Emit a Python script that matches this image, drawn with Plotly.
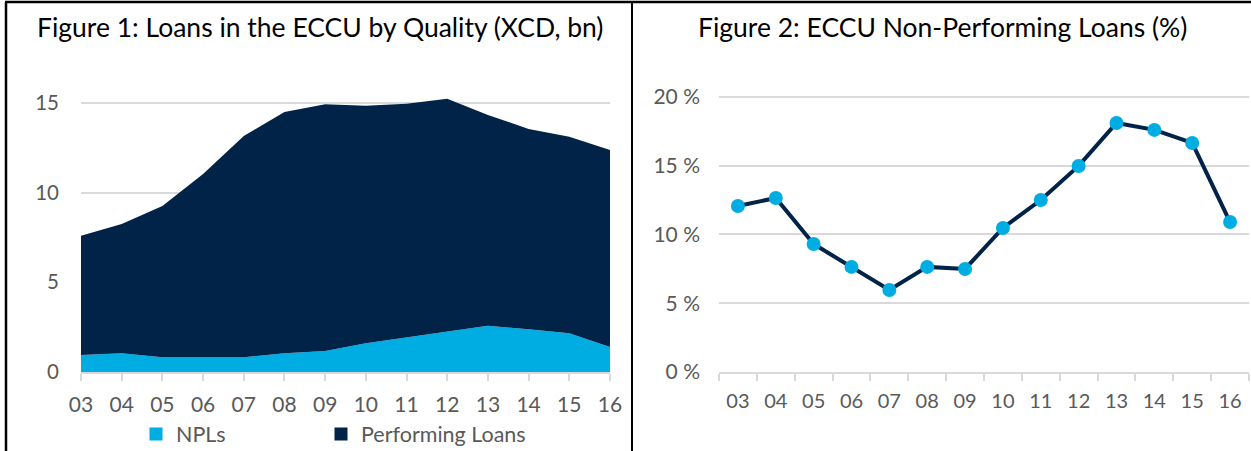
import plotly.graph_objects as go

years = ["03", "04", "05", "06", "07", "08", "09", "10", "11", "12", "13", "14", "15", "16"]
total_loans = [7.6, 8.25, 9.26, 11.04, 13.16, 14.5, 14.93, 14.85, 14.95, 15.24, 14.33, 13.55, 13.12, 12.38]
npls = [0.95, 1.04, 0.82, 0.82, 0.82, 1.04, 1.17, 1.6, 1.93, 2.25, 2.58, 2.38, 2.16, 1.39]
performing = [round(t - n, 3) for t, n in zip(total_loans, npls)]
npl_pct = [12.07, 12.65, 9.3, 7.64, 5.96, 7.64, 7.49, 10.47, 12.5, 14.98, 18.1, 17.6, 16.65, 10.9]

left_yticks = [0, 5, 10, 15]
right_yticks = [0, 5, 10, 15, 20]
right_yticklabels = ["0 %", "5 %", "10 %", "15 %", "20 %"]

NAVY = "#002347"
LIGHT = "#00ADE3"
GRID = "#D9D9D9"
TXT = "#595959"
FONT = "Lato"

W, H = 1251, 451

def px_x(p):
    return p / W

def px_y(p):
    return (H - p) / H

fig = go.Figure()

# Left: stacked area
fig.add_trace(go.Scatter(x=years, y=npls, mode="lines", line=dict(width=0, color=LIGHT),
                         fillcolor=LIGHT, stackgroup="a", name="NPLs",
                         showlegend=False, xaxis="x", yaxis="y"))
fig.add_trace(go.Scatter(x=years, y=performing, mode="lines", line=dict(width=0, color=NAVY),
                         fillcolor=NAVY, stackgroup="a", name="Performing Loans",
                         showlegend=False, xaxis="x", yaxis="y"))
# legend proxies
fig.add_trace(go.Scatter(x=[None], y=[None], mode="markers",
                         marker=dict(symbol="square", size=13, color=LIGHT),
                         name="NPLs", xaxis="x", yaxis="y", legend="legend"))
fig.add_trace(go.Scatter(x=[None], y=[None], mode="markers",
                         marker=dict(symbol="square", size=13, color=NAVY),
                         name="Performing Loans", xaxis="x", yaxis="y", legend="legend2"))

# Right: line
fig.add_trace(go.Scatter(x=years, y=npl_pct, mode="lines+markers",
                         line=dict(color=NAVY, width=4),
                         marker=dict(color=LIGHT, size=14),
                         showlegend=False, xaxis="x2", yaxis="y2"))

legend_common = dict(orientation="h", xanchor="left", y=px_y(434), yanchor="middle",
                     itemwidth=30, font=dict(size=21.5, color=TXT), bgcolor="rgba(0,0,0,0)")

fig.update_layout(
    width=W, height=H,
    margin=dict(l=0, r=0, t=0, b=0, autoexpand=False),
    paper_bgcolor="white", plot_bgcolor="white",
    font=dict(family=FONT, color=TXT, size=18),
    xaxis=dict(domain=[px_x(81), px_x(610)], type="category", range=[0, 13],
               showgrid=False, showline=True, linecolor=GRID, linewidth=1.5,
               ticks="outside", ticklen=7, tickcolor=GRID, tickwidth=1.5,
               ticklabelstandoff=6,
               tickfont=dict(size=21, color=TXT), anchor="y", automargin=False),
    yaxis=dict(domain=[px_y(372), px_y(85)], range=[0, 16], tickvals=left_yticks,
               showgrid=True, gridcolor=GRID, gridwidth=1.5, zeroline=False,
               showline=False, ticks="", ticklabelstandoff=21,
               tickfont=dict(size=20.5, color=TXT), anchor="x", automargin=False),
    xaxis2=dict(domain=[px_x(719), px_x(1249)], type="category", range=[-0.5, 13.5],
                showgrid=False, showline=True, linecolor=GRID, linewidth=1.5,
                ticks="outside", ticklen=7, tickcolor=GRID, tickwidth=1.5,
                tickson="boundaries", ticklabelstandoff=10,
                tickfont=dict(size=20, color=TXT), anchor="y2", automargin=False),
    yaxis2=dict(domain=[px_y(372), px_y(90)], range=[0, 20.5], tickvals=right_yticks,
                ticktext=right_yticklabels,
                showgrid=True, gridcolor=GRID, gridwidth=1.5, zeroline=False,
                showline=False, ticks="", ticklabelstandoff=18,
                tickfont=dict(size=21, color=TXT), anchor="x2", automargin=False),
    legend=dict(x=px_x(136), **legend_common),
    legend2=dict(x=px_x(321), **legend_common),
    annotations=[
        dict(text="Figure 1: Loans in the ECCU by Quality (XCD, bn)", x=px_x(320), y=px_y(27),
             xref="paper", yref="paper", showarrow=False, xanchor="center", yanchor="middle",
             font=dict(size=26.5, color="#000000", family=FONT)),
        dict(text="Figure 2: ECCU Non-Performing Loans (%)", x=px_x(942), y=px_y(27),
             xref="paper", yref="paper", showarrow=False, xanchor="center", yanchor="middle",
             font=dict(size=26.5, color="#000000", family=FONT)),
    ],
    shapes=[
        dict(type="line", xref="paper", yref="paper", x0=px_x(5), x1=1, y0=px_y(2), y1=px_y(2),
             line=dict(color="black", width=2.5)),
        dict(type="line", xref="paper", yref="paper", x0=px_x(6), x1=px_x(6), y0=px_y(2), y1=0,
             line=dict(color="black", width=2.5)),
        dict(type="line", xref="paper", yref="paper", x0=px_x(632), x1=px_x(632), y0=px_y(2), y1=0,
             line=dict(color="black", width=2)),
    ],
)

fig.write_html("out.html", config={"displayModeBar": False},
               post_script="document.body.style.margin='0px';document.body.style.overflow='hidden';")
